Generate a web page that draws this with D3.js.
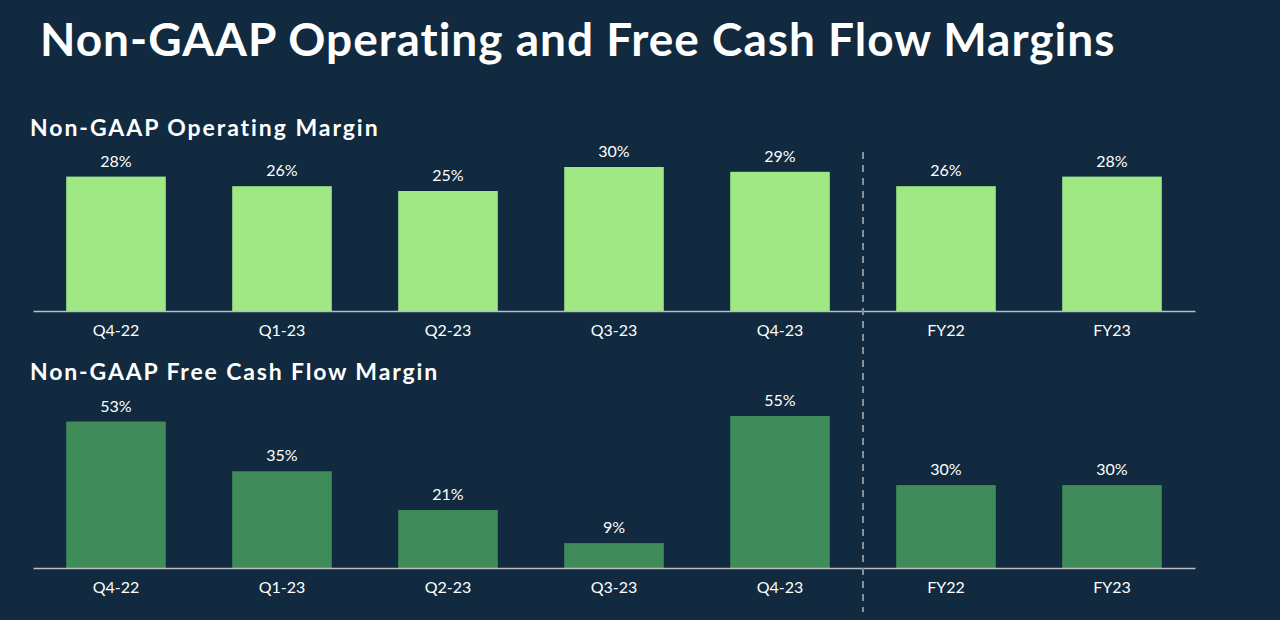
<!DOCTYPE html>
<html><head><meta charset="utf-8">
<script src="https://cdn.jsdelivr.net/npm/d3@7/dist/d3.min.js"></script>
<style>html,body{margin:0;padding:0;background:#112a40;}svg{display:block;}</style>
</head><body>
<script>
const categories = ["Q4-22","Q1-23","Q2-23","Q3-23","Q4-23","FY22","FY23"];
const operatingMargin = [28,26,25,30,29,26,28];
const fcfMargin = [53,35,21,9,55,30,30];
const titleText = "Non-GAAP Operating and Free Cash Flow Margins";
const panelTitles = ["Non-GAAP Operating Margin","Non-GAAP Free Cash Flow Margin"];

const W = 1280, H = 620;
const svg = d3.select("body").append("svg").attr("width", W).attr("height", H);
svg.append("rect").attr("width", W).attr("height", H).attr("fill", "#112a40");

const font = "'Lato', 'Open Sans', sans-serif";

function fitText(sel, targetWidth) {
  const n = sel.text().length;
  const w = sel.node().getComputedTextLength();
  const ls = (targetWidth - w) / Math.max(1, n - 1);
  sel.attr("letter-spacing", ls.toFixed(2));
}

const title = svg.append("text").attr("x", 40).attr("y", 56)
  .attr("fill", "#ffffff").attr("font-family", font).attr("font-weight", 700)
  .attr("font-size", 46).text(titleText);
fitText(title, 1075);

const x = d3.scaleBand().domain(categories).range([33, 1195]).paddingInner(0.4).paddingOuter(0.2);

function panel(values, baseline, maxVal, topY, color, titleY, title, titleW) {
  const y = d3.scaleLinear().domain([0, maxVal]).range([baseline, topY]);
  const g = svg.append("g");
  const t = g.append("text").attr("x", 30).attr("y", titleY).attr("fill", "#fff")
    .attr("font-family", font).attr("font-weight", 700).attr("font-size", 23).text(title);
  fitText(t, titleW);
  g.selectAll("rect.bar").data(values).join("rect").attr("class","bar")
    .attr("x", (d,i) => x(categories[i])).attr("width", x.bandwidth())
    .attr("y", d => y(d)).attr("height", d => baseline - y(d))
    .attr("fill", color);
  g.selectAll("text.val").data(values).join("text").attr("class","val")
    .attr("x", (d,i) => x(categories[i]) + x.bandwidth()/2)
    .attr("y", d => y(d) - 10)
    .attr("text-anchor", "middle").attr("fill", "#fff")
    .attr("font-family", font).attr("font-size", 16).text(d => d + "%");
  const axis = d3.axisBottom(x).tickSize(0).tickPadding(14);
  const ag = g.append("g").attr("transform", `translate(0,${baseline})`).call(axis);
  ag.select(".domain").attr("stroke", "#b8bec4").attr("stroke-width", 1.5);
  ag.selectAll("text").attr("fill", "#fff").attr("font-family", font).attr("font-size", 16);
}

panel(operatingMargin, 311, 30, 167, "#9fe884", 136, panelTitles[0], 348);
panel(fcfMargin, 568, 55, 416, "#3f8c5a", 380, panelTitles[1], 407);

const sepX = (x("Q4-23") + x.bandwidth() + x("FY22")) / 2;
svg.append("line").attr("x1", sepX).attr("x2", sepX).attr("y1", 152).attr("y2", 612)
  .attr("stroke", "#8a9096").attr("stroke-width", 2).attr("stroke-dasharray", "7,6");
</script>
</body></html>
